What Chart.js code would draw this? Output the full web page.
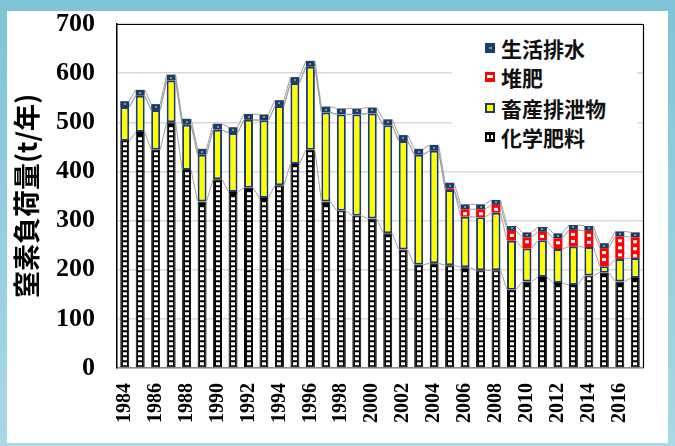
<!DOCTYPE html>
<html><head><meta charset="utf-8">
<script src="https://cdn.jsdelivr.net/npm/chart.js@4.4.1/dist/chart.umd.min.js"></script>
<style>
html,body{margin:0;padding:0;}
body{width:675px;height:446px;position:relative;overflow:hidden;background:linear-gradient(#7fc3d7,#a9d8e6);}
#paper{position:absolute;left:7px;top:11px;width:661px;height:432px;background:#fff;}
#wrap{position:absolute;left:0;top:0;width:675px;height:446px;}
#legend{position:absolute;left:452px;top:30px;width:185px;height:136px;background:#fff;font-family:"Noto Sans CJK JP";font-weight:700;font-size:21px;color:#111;}
.item{position:absolute;left:33px;height:30px;line-height:30px;white-space:nowrap;}
.mk{position:absolute;left:0;top:10px;width:10px;height:10px;box-sizing:border-box;}
.tx{position:absolute;left:16px;top:0;}
</style></head>
<body>
<div id="paper"></div>
<div id="wrap"><canvas id="c" width="675" height="446"></canvas></div>
<div id="legend">
 <div class="item" style="top:3px"><div class="mk" style="background:#1f3a6e;border:1px solid #1f3a6e"><div style="position:absolute;left:3px;top:3px;width:3px;height:2px;background:#6fa85a"></div></div><span class="tx">生活排水</span></div>
 <div class="item" style="top:32px"><div class="mk" style="background:#ff0000;"><div style="position:absolute;left:2px;top:3px;width:6px;height:3px;background:#fff"></div></div><span class="tx">堆肥</span></div>
 <div class="item" style="top:63px"><div class="mk" style="background:#ffff00;border:2px solid #1f3a6e"></div><span class="tx">畜産排泄物</span></div>
 <div class="item" style="top:92px"><div class="mk" style="background:#000;"><div style="position:absolute;left:2px;top:3px;width:2px;height:4px;background:#fff"></div><div style="position:absolute;left:6px;top:3px;width:2px;height:4px;background:#fff"></div></div><span class="tx">化学肥料</span></div>
</div>
<script>
const years = ['1984','1985','1986','1987','1988','1989','1990','1991','1992','1993','1994','1995','1996','1997','1998','1999','2000','2001','2002','2003','2004','2005','2006','2007','2008','2009','2010','2011','2012','2013','2014','2015','2016','2017'];
const chemical = [462,480,444,500,403,339,384,358,367,346,372,415,444,339,320,310,304,274,241,210,213,209,205,199,199,159,176,185,173,169,188,194,176,183];
const livestock = [69,74,81,85,92,95,101,120,138,158,161,165,169,181,196,206,214,220,221,224,229,153,103,108,117,100,67,75,69,78,58,13,46,41];
const compost = [0,0,0,0,0,0,0,0,0,0,0,0,0,0,0,0,0,0,0,0,0,3,15,16,16,20,23,17,22,34,33,37,46,42];
const domestic = [12,12,12,12,12,12,12,12,12,12,12,12,12,12,12,12,12,12,12,12,12,12,10,10,10,10,10,10,10,10,10,10,10,10];
const seriesNames = ['化学肥料','畜産排泄物','堆肥','生活排水'];
const yTicks = [0,100,200,300,400,500,600,700];
const yTitle = '窒素負荷量(t/年)';

const NAVY = '#1f3a6e';

const decor = {
  id:'decor',
  afterDatasetsDraw(chart){
    const ctx = chart.ctx;
    const ca = chart.chartArea;
    ctx.save();
    const m0 = chart.getDatasetMeta(0).data;
    ctx.fillStyle = '#fff';
    m0.forEach(b=>{
      const cx = Math.round(b.x);
      for (let yy = b.base - 5; yy > b.y + 1; yy -= 5){
        ctx.fillRect(cx-2, yy, 4, 3);
      }
    });
    const m2 = chart.getDatasetMeta(2).data;
    m2.forEach(b=>{
      const h = b.base - b.y;
      if (h < 6) return;
      const cx = Math.round(b.x);
      for (let yy = b.y + 3; yy < b.base - 3; yy += 7){
        ctx.fillRect(cx-2, yy, 4, 3);
      }
    });
    const m3 = chart.getDatasetMeta(3).data;
    ctx.fillStyle = '#6fa85a';
    m3.forEach(b=>{
      ctx.fillRect(Math.round(b.x)-1, Math.round((b.y+b.base)/2)-1, 2, 2);
    });
    ctx.strokeStyle = '#a0a0a0';
    ctx.lineWidth = 1;
    for (let d=0; d<4; d++){
      const els = chart.getDatasetMeta(d).data;
      ctx.beginPath();
      for (let i=0;i<els.length-1;i++){
        const a = els[i], c = els[i+1];
        ctx.moveTo(a.x + a.width/2, a.y);
        ctx.lineTo(c.x - c.width/2, c.y);
      }
      ctx.stroke();
    }
    ctx.strokeStyle = '#000';
    ctx.lineWidth = 1.2;
    ctx.beginPath();
    ctx.moveTo(ca.left, ca.top+0.5); ctx.lineTo(ca.right+0.5, ca.top+0.5); ctx.lineTo(ca.right+0.5, ca.bottom);
    ctx.stroke();
    ctx.restore();
  }
};

const common = {stack:'s', borderSkipped:false};
new Chart(document.getElementById('c'), {
  type:'bar',
  data:{
    labels: years,
    datasets:[
      Object.assign({label:seriesNames[0], data:chemical, backgroundColor:'#000', borderColor:'#000', borderWidth:1}, common),
      Object.assign({label:seriesNames[1], data:livestock, backgroundColor:'#ffff00', borderColor:NAVY, borderWidth:2}, common),
      Object.assign({label:seriesNames[2], data:compost, backgroundColor:'#ff0000', borderColor:'#ff0000', borderWidth:0}, common),
      Object.assign({label:seriesNames[3], data:domestic, backgroundColor:NAVY, borderColor:NAVY, borderWidth:0}, common)
    ]
  },
  options:{
    responsive:false,
    animation:false,
    devicePixelRatio:1,
    layout:{padding:{left:8, top:24, right:32, bottom:0}},
    datasets:{bar:{barPercentage:0.58, categoryPercentage:1.0}},
    plugins:{legend:{display:false}, tooltip:{enabled:false}},
    scales:{
      x:{
        stacked:true,
        grid:{display:false, drawTicks:false},
        border:{color:'#8a8a8a', width:1.5},
        ticks:{autoSkip:false, maxRotation:90, minRotation:90, padding:15, color:'#000',
          font:{family:'"Liberation Serif"', weight:'bold', size:20},
          callback:(v,i)=> i%2===0 ? years[i] : ''},
        afterFit(s){ s.height = 78; s.paddingLeft = 0; s.paddingRight = 0; }
      },
      y:{
        stacked:true, min:0, max:700,
        afterBuildTicks(s){ s.ticks = yTicks.map(v=>({value:v})); },
        grid:{color:'#d9d9d9', lineWidth:1.5, drawTicks:false},
        border:{color:'#000', width:1.5},
        ticks:{padding:22, color:'#000', font:{family:'"Liberation Serif"', weight:'bold', size:26}},
        title:{display:true, text:yTitle, color:'#000', padding:{top:3,bottom:0},
          font:{family:'"Noto Sans CJK JP"', weight:'bold', size:27}},
        afterFit(s){ s.width = 109; s.paddingTop = 0; s.paddingBottom = 0; }
      }
    }
  },
  plugins:[decor]
});
</script>
</body></html>
